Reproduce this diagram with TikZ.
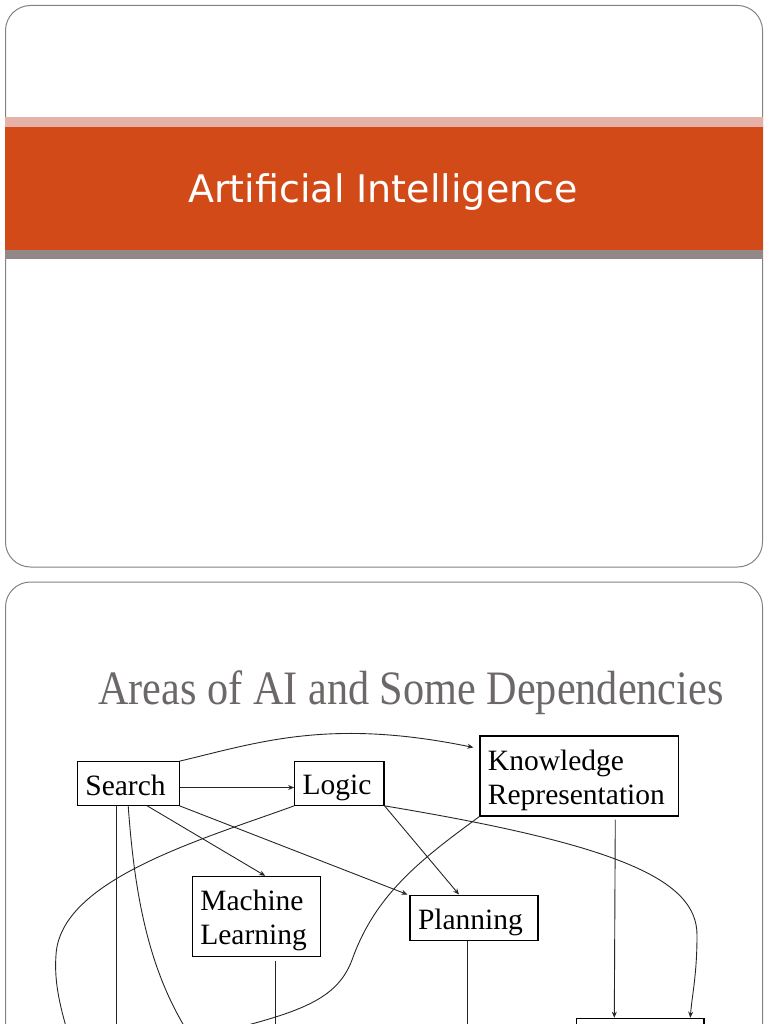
\documentclass[tikz,border=0pt]{standalone}
\usepackage{fontspec}
\usetikzlibrary{arrows.meta}

\newfontfamily\slidesans{DejaVu Sans}
\newfontfamily\slideserif{Liberation Serif}
\newfontfamily\headserif[FakeStretch=0.88]{Liberation Serif}

\definecolor{SlideOrange}{RGB}{210,74,24}
\definecolor{SlidePink}{RGB}{230,177,169}
\definecolor{SlideGrey}{RGB}{147,135,135}
\definecolor{SlideEdge}{RGB}{130,130,130}
\definecolor{HeadGrey}{RGB}{108,104,104}

\newcommand{\upstrut}{\rule{0pt}{29pt}}
\newcommand{\downstrut}{\rule[-6pt]{0pt}{6pt}}

\begin{document}
\begin{tikzpicture}[x=1pt, y=-1pt, >={Stealth[length=6pt,width=5pt]},
    areabox/.style={draw, line width=1.1pt, text width=#1, align=left, inner xsep=8pt, inner ysep=2pt,
        font=\slideserif\fontsize{29.5}{34.5}\selectfont,
        execute at begin node=\upstrut, execute at end node=\downstrut},
    link/.style={->, line width=0.9pt, black!85},
    slide/.style={draw=SlideEdge, line width=1pt, rounded corners=25pt}]
                \useasboundingbox (0,0) rectangle (768,1024);
                \clip (0,0) rectangle (768,1024);

                % Title slide
                \draw[slide] (5.5,5.5) rectangle (762.5,567);
                \fill[SlidePink] (5,117) rectangle (763,127);
                \fill[SlideOrange] (5,127) rectangle (763,249.5);
                \fill[SlideGrey] (5,249.5) rectangle (763,259);
                \node[anchor=base, text=white, font=\slidesans\fontsize{38}{44}\selectfont] (title) at (383,203) {Artificial Intelligence};

                % Second slide
                \draw[slide] (5.5,582) rectangle (762.5,1150);
                \node[anchor=base, text=HeadGrey, font=\headserif\fontsize{48}{56}\selectfont] (heading) at (411,704) {Areas of AI and Some Dependencies};

                % Areas
                \node[areabox=85.7pt, minimum height=43.6pt] (search) at (128.2,783.5) {Search};
                \node[areabox=73.3pt, minimum height=43.6pt] (logic) at (339.35,783.5) {Logic};
                \node[areabox=182.7pt, minimum height=80pt] (kr) at (579.3,776) {Knowledge\\Representation};
                \node[areabox=111.7pt, minimum height=79.7pt] (ml) at (256.2,916.2) {Machine\\Learning};
                \node[areabox=112pt, minimum height=45.7pt] (planning) at (474,917.9) {Planning};
                \node[areabox=111.3pt, minimum height=60pt, anchor=north] (lowbox) at (640.3,1017.7) {};

                % Ends below the slide
                \coordinate (offA) at (116.2,1100);
                \coordinate (offB) at (200,1050);
                \coordinate (offC) at (80,1075);
                \coordinate (offD) at (275.2,1100);
                \coordinate (offE) at (467,1100);
                \coordinate (offF) at (180,1042);

                % Search
                \draw[link] ([yshift=-4pt]search.east) -- ([yshift=-4pt]logic.west);
                \draw[link] (search.north east) .. controls (260,742) and (330,718) .. ([xshift=-6pt,yshift=-12pt]kr.north west);
                \draw[link] ([xshift=19pt]search.south) -- ([xshift=9pt]ml.north);
                \draw[link] (search.south east) -- ([xshift=-2pt]planning.north west);
                \draw[link] ([xshift=-12pt]search.south) -- (offA);
                \draw[link] (search.south) .. controls (135,900) and (150,980) .. (offB);

                % Logic
                \draw[link] (logic.south east) -- ([xshift=-15pt]planning.north);
                \draw[link] (logic.south west) .. controls (200,840) and (60,880) .. (56,955) .. controls (53,995) and (68,1030) .. (offC);
                \draw[link] (logic.south east) .. controls (620,845) and (697,880) .. (697,935) .. controls (697,975) and (692,995) .. ([xshift=50pt]lowbox.north);

                % Knowledge Representation
                \draw[link, shorten <=3pt] ([xshift=36pt]kr.south) -- ([xshift=-26pt]lowbox.north);
                \draw[link] (kr.south west) .. controls (420,860) and (375,895) .. (352,960) .. controls (335,1005) and (290,1015) .. (offF);

                % Machine Learning and Planning
                \draw[link, shorten <=4pt] ([xshift=19pt]ml.south) -- (offD);
                \draw[link] ([xshift=-7pt]planning.south) -- (offE);
\end{tikzpicture}
\end{document}
